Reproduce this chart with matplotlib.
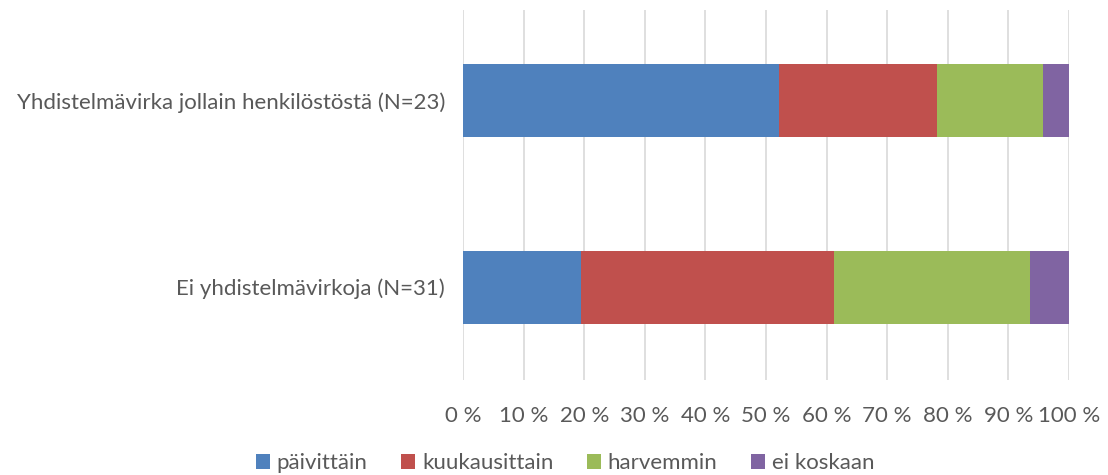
import matplotlib.pyplot as plt
import numpy as np

plt.rcParams['font.family'] = ['Lato', 'DejaVu Sans']

# ryhmät (alhaalta ylös)
categories = ['Ei yhdistelmävirkoja (N=31)', 'Yhdistelmävirka jollain henkilöstöstä (N=23)']
series = ['päivittäin', 'kuukausittain', 'harvemmin', 'ei koskaan']
paivittain = [19.4, 52.2]
kuukausittain = [41.9, 26.1]
harvemmin = [32.3, 17.4]
ei_koskaan = [6.4, 4.3]
colors = ['#4F81BD', '#C0504D', '#9BBB59', '#8064A2']
xticks = [0, 10, 20, 30, 40, 50, 60, 70, 80, 90, 100]

fig = plt.figure(figsize=(11.08, 4.75), dpi=100)
ax = fig.add_axes([463 / 1108, 95 / 475, 606 / 1108, 370 / 475])

y = np.arange(len(categories))
left = np.zeros(len(categories))
for name, vals, c in zip(series, [paivittain, kuukausittain, harvemmin, ei_koskaan], colors):
    ax.barh(y, vals, left=left, height=0.39, color=c, label=name, zorder=3)
    left += np.array(vals)

ax.set_xlim(0, 100)
ax.set_ylim(-0.497, 1.483)
ax.set_xticks(xticks)
ax.set_xticklabels([f'{t} %' for t in xticks])
ax.set_yticks(y)
ax.set_yticklabels(categories)
ax.tick_params(axis='both', length=0, labelsize=16, colors='#595959')
ax.tick_params(axis='x', pad=19)
ax.tick_params(axis='y', pad=13)
ax.grid(axis='x', color='#D9D9D9', linewidth=1.2, zorder=0)
for s in ax.spines.values():
    s.set_visible(False)

leg = fig.legend(loc='center', bbox_to_anchor=(565 / 1108, 1 - 463 / 475), ncol=4,
                 frameon=False, fontsize=16, handlelength=0.65, handleheight=0.65,
                 handletextpad=0.3, columnspacing=1.5, labelcolor='#595959')

fig.savefig('out.png', dpi=100)
